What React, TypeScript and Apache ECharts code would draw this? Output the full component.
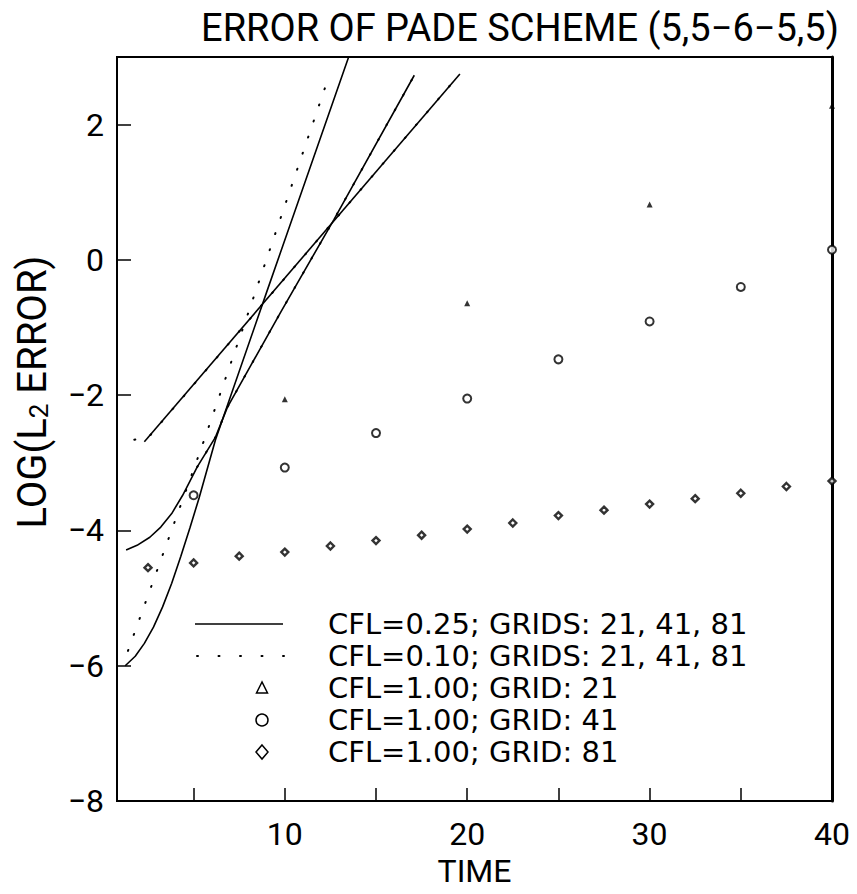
import React, { useEffect, useRef } from "react";
import * as echarts from "echarts";

const FONT = "Roboto, 'DejaVu Sans', sans-serif";
const LEGEND_FONT = "'DejaVu Sans', Roboto, sans-serif";

const titleText = "ERROR OF PADE SCHEME (5,5−6−5,5)";
const xAxisName = "TIME";
const xTickValues = [5, 10, 15, 20, 25, 30, 35];
const xLabelValues = [10, 20, 30, 40];
const yTickValues = [-6, -4, -2, 0, 2];
const yLabelValues = [-8, -6, -4, -2, 0, 2];

// CFL = 0.25 (solid)
const cfl025CurveA = [[2.3, -2.69], [19.6, 2.75]];
const cfl025CurveB = [[1.3, -4.29], [1.9, -4.22], [2.6, -4.1], [3.2, -3.95], [3.8, -3.75], [4.4, -3.48], [5.2, -3.06], [6.2, -2.62], [6.85, -2.18], [9.8, -0.76], [12.7, 0.6], [17.1, 2.73]];
const cfl025CurveC = [[1.25, -6.0], [1.8, -5.86], [2.3, -5.67], [2.8, -5.43], [3.3, -5.13], [3.8, -4.78], [4.3, -4.38], [4.8, -3.96], [5.3, -3.52], [6.2, -2.66], [9.0, -0.48], [13.5, 3.0]];

// CFL = 0.10 (dotted)
const cfl010CurveA = [[1.75, -2.66], [2.6, -2.6], [19.6, 2.75]];
const cfl010CurveB = [[5.2, -3.06], [6.2, -2.62], [6.85, -2.18], [9.8, -0.76], [12.7, 0.6], [17.1, 2.73]];
const cfl010CurveD = [[1.4, -5.78], [5.4, -2.8], [8.0, -0.78], [12.4, 2.7]];

// CFL = 1.00
const grid21Times = [10, 20, 30, 40];
const grid21Errors = [-2.06, -0.64, 0.82, 2.28];
const grid41Times = [5, 10, 15, 20, 25, 30, 35, 40];
const grid41Errors = [-3.48, -3.07, -2.56, -2.05, -1.47, -0.91, -0.4, 0.15];
const grid81Times = [2.5, 5, 7.5, 10, 12.5, 15, 17.5, 20, 22.5, 25, 27.5, 30, 32.5, 35, 37.5, 40];
const grid81Errors = [-4.55, -4.48, -4.38, -4.32, -4.23, -4.15, -4.07, -3.98, -3.89, -3.78, -3.7, -3.61, -3.53, -3.45, -3.35, -3.27];

const legendLabels = [
  "CFL=0.25; GRIDS: 21, 41, 81",
  "CFL=0.10; GRIDS: 21, 41, 81",
  "CFL=1.00; GRID: 21",
  "CFL=1.00; GRID: 41",
  "CFL=1.00; GRID: 81",
];

const zip = (xs: number[], ys: number[]) => xs.map((x, i) => [x, ys[i]]);
const fmt = (v: number) => (v < 0 ? "−" + Math.abs(v) : String(v));

export default function App() {
  const ref = useRef<HTMLDivElement>(null);
  useEffect(() => {
    if (!ref.current) return;
    const chart = echarts.init(ref.current, null, { renderer: "svg" });
    const solid = { color: "#000", width: 1.6 };
    const dotted = { color: "#000", width: 2, type: [1, 16], cap: "round" };
    const lineBase = { type: "line", showSymbol: false, symbol: "none", smooth: false, silent: true };
    const rows = [624, 656, 688, 720, 752];
    const mx = 262;
    const textStyle = { fill: "#000", font: `29px ${LEGEND_FONT}`, verticalAlign: "middle", align: "left", lineHeight: 29 };
    const option: any = {
      animation: false,
      backgroundColor: "#fff",
      textStyle: { fontFamily: FONT, color: "#000" },
      title: {
        text: titleText,
        left: 515,
        top: 4,
        textAlign: "center",
        textStyle: { fontSize: 38, fontWeight: "normal", color: "#000", fontFamily: FONT },
      },
      grid: { left: 117, right: 25, top: 57, bottom: 93, show: true, borderColor: "#000", borderWidth: 2 },
      xAxis: {
        type: "value",
        min: 0.8,
        max: 40,
        axisLine: { show: false, onZero: false },
        axisTick: { show: true, inside: true, length: 13, customValues: xTickValues, lineStyle: { color: "#000", width: 1.5 } },
        axisLabel: { customValues: xLabelValues, fontSize: 32, color: "#000", margin: 17, fontFamily: FONT },
        splitLine: { show: false },
        name: xAxisName,
        nameLocation: "middle",
        nameGap: 50,
        nameTextStyle: { fontSize: 32, color: "#000", fontFamily: FONT },
      },
      yAxis: [
        {
          type: "value",
          min: -8,
          max: 3,
          axisLine: { show: false, onZero: false },
          axisTick: { show: true, inside: true, length: 14, customValues: yTickValues, lineStyle: { color: "#000", width: 1.5 } },
          axisLabel: { customValues: yLabelValues, fontSize: 32, color: "#000", margin: 13, fontFamily: FONT, formatter: fmt },
          splitLine: { show: false },
        },
        {
          type: "value",
          min: -8,
          max: 3,
          position: "right",
          axisLine: { show: true, onZero: false, lineStyle: { color: "#000", width: 3 } },
          axisTick: { show: false },
          axisLabel: { show: false },
          splitLine: { show: false },
        },
      ],
      series: [
        { ...lineBase, name: legendLabels[0], data: cfl025CurveA, lineStyle: solid },
        { ...lineBase, name: legendLabels[0], data: cfl025CurveB, lineStyle: solid },
        { ...lineBase, name: legendLabels[0], data: cfl025CurveC, lineStyle: solid },
        { ...lineBase, name: legendLabels[1], data: cfl010CurveA, lineStyle: dotted },
        { ...lineBase, name: legendLabels[1], data: cfl010CurveB, lineStyle: dotted },
        { ...lineBase, name: legendLabels[1], data: cfl010CurveD, lineStyle: dotted },
        {
          type: "scatter", name: legendLabels[2], data: zip(grid21Times, grid21Errors), symbol: "triangle", symbolSize: 6,
          clip: false, itemStyle: { color: "#000" },
        },
        {
          type: "scatter", name: legendLabels[3], data: zip(grid41Times, grid41Errors), symbol: "circle", symbolSize: 8,
          clip: false, itemStyle: { color: "#fff", borderColor: "#000", borderWidth: 2 },
        },
        {
          type: "scatter", name: legendLabels[4], data: zip(grid81Times, grid81Errors), symbol: "diamond", symbolSize: 7,
          clip: false, itemStyle: { color: "#fff", borderColor: "#000", borderWidth: 2.4 },
        },
      ],
      graphic: [
        {
          type: "text",
          x: 32,
          y: 392,
          rotation: Math.PI / 2,
          style: {
            text: "LOG(L{sub|2} ERROR)",
            fill: "#000",
            font: `40px ${FONT}`,
            align: "center",
            verticalAlign: "middle",
            rich: { sub: { fontSize: 26, fontFamily: FONT, verticalAlign: "bottom", padding: [10, 0, 0, 0] } },
          },
        },
        { type: "line", shape: { x1: 195, y1: rows[0], x2: 283, y2: rows[0] }, style: { stroke: "#000", lineWidth: 1.6 } },
        { type: "line", shape: { x1: 197, y1: rows[1], x2: 284, y2: rows[1] }, style: { stroke: "#000", lineWidth: 2, lineDash: [1, 20.5], lineCap: "round" } },
        { type: "polygon", shape: { points: [[mx, rows[2] - 6], [mx - 5.5, rows[2] + 5], [mx + 5.5, rows[2] + 5]] }, style: { fill: "none", stroke: "#000", lineWidth: 1.5 } },
        { type: "circle", shape: { cx: mx, cy: rows[3], r: 6 }, style: { fill: "none", stroke: "#000", lineWidth: 1.5 } },
        { type: "polygon", shape: { points: [[mx, rows[4] - 7], [mx + 6, rows[4]], [mx, rows[4] + 7], [mx - 6, rows[4]]] }, style: { fill: "none", stroke: "#000", lineWidth: 1.5 } },
        ...legendLabels.map((t, i) => ({ type: "text", x: 328, y: rows[i], style: { ...textStyle, text: t } })),
      ],
    };
    chart.setOption(option);
    return () => chart.dispose();
  }, []);
  return <div ref={ref} style={{ position: "fixed", left: 0, top: 0, width: 857, height: 894, background: "#fff" }} />;
}
